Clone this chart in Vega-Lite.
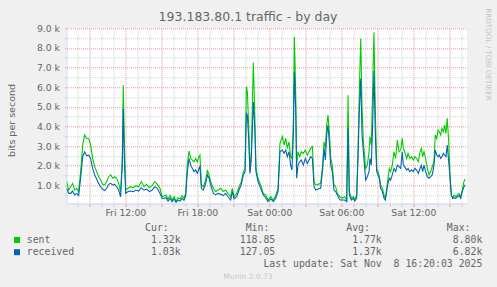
{
"$schema": "https://vega.github.io/schema/vega-lite/v6.json",
"width": 400.5,
"height": 175.2,
"autosize": {"type": "none"},
"padding": {"left": 66.5, "top": 28.3, "right": 30, "bottom": 83.5},
"background": "#f0f0f0",
"config": {"view": {"fill": "#ffffff", "stroke": null}, "font": "DejaVu Sans"},
"title": {"text": "193.183.80.1 traffic - by day", "fontSize": 12.5, "fontWeight": "normal", "color": "#666666", "anchor": "middle", "frame": "group", "dx": -18.7, "dy": 30, "baseline": "alphabetic", "offset": 4},
"datasets": {
"traffic": [
{"h":7.11,"sent":1190,"received":850},{"h":7.28,"sent":760,"received":590},{"h":7.45,"sent":930,"received":590},{"h":7.61,"sent":1100,"received":710},{"h":7.78,"sent":760,"received":510},{"h":7.95,"sent":850,"received":590},{"h":8.11,"sent":680,"received":480},{"h":8.28,"sent":1700,"received":1360},{"h":8.45,"sent":3050,"received":2460},{"h":8.61,"sent":3560,"received":2710},{"h":8.78,"sent":3390,"received":2510},{"h":8.95,"sent":3390,"received":2540},{"h":9.11,"sent":3050,"received":2370},{"h":9.28,"sent":2370,"received":1860},{"h":9.45,"sent":1950,"received":1530},{"h":9.61,"sent":1700,"received":1320},{"h":9.78,"sent":1440,"received":1100},{"h":9.95,"sent":1270,"received":930},{"h":10.11,"sent":1050,"received":800},{"h":10.28,"sent":1020,"received":730},{"h":10.45,"sent":1190,"received":850},{"h":10.61,"sent":1440,"received":1050},{"h":10.78,"sent":1530,"received":1100},{"h":10.95,"sent":1360,"received":1020},{"h":11.11,"sent":1440,"received":1050},{"h":11.28,"sent":1360,"received":930},{"h":11.45,"sent":1100,"received":760},{"h":11.61,"sent":680,"received":420},{"h":11.75,"sent":2370,"received":2030},{"h":11.83,"sent":6100,"received":4920},{"h":11.92,"sent":3220,"received":2370},{"h":12.03,"sent":760,"received":590},{"h":12.22,"sent":850,"received":680},{"h":12.45,"sent":930,"received":710},{"h":12.67,"sent":880,"received":680},{"h":12.89,"sent":980,"received":760},{"h":13.11,"sent":930,"received":710},{"h":13.33,"sent":1190,"received":880},{"h":13.56,"sent":930,"received":760},{"h":13.78,"sent":1050,"received":810},{"h":14.0,"sent":880,"received":680},{"h":14.22,"sent":980,"received":750},{"h":14.45,"sent":1190,"received":930},{"h":14.67,"sent":1050,"received":850},{"h":14.89,"sent":850,"received":590},{"h":15.06,"sent":420,"received":340},{"h":15.22,"sent":450,"received":330},
{"h":15.39,"sent":510,"received":370},{"h":15.56,"sent":310,"received":200},{"h":15.73,"sent":480,"received":340},{"h":15.89,"sent":250,"received":170},{"h":16.06,"sent":420,"received":310},{"h":16.23,"sent":200,"received":140},{"h":16.39,"sent":370,"received":250},{"h":16.56,"sent":310,"received":200},{"h":16.73,"sent":480,"received":340},{"h":16.89,"sent":340,"received":240},{"h":17.03,"sent":590,"received":480},{"h":17.17,"sent":2030,"received":1700},{"h":17.31,"sent":2750,"received":2370},{"h":17.45,"sent":2370,"received":2030},{"h":17.59,"sent":2290,"received":1860},{"h":17.73,"sent":2200,"received":1700},{"h":17.86,"sent":2370,"received":1780},{"h":18.0,"sent":2200,"received":1610},{"h":18.14,"sent":2460,"received":1860},{"h":18.22,"sent":2540,"received":1950},{"h":18.34,"sent":1020,"received":850},{"h":18.5,"sent":930,"received":760},{"h":18.7,"sent":1270,"received":1100},{"h":18.84,"sent":1780,"received":1530},{"h":18.98,"sent":1530,"received":1360},{"h":19.11,"sent":1190,"received":1020},{"h":19.34,"sent":850,"received":590},{"h":19.53,"sent":680,"received":510},{"h":19.73,"sent":760,"received":590},{"h":19.95,"sent":850,"received":540},{"h":20.17,"sent":680,"received":480},{"h":20.36,"sent":760,"received":590},{"h":20.56,"sent":590,"received":420},{"h":20.78,"sent":420,"received":250},{"h":20.92,"sent":850,"received":680},{"h":21.06,"sent":420,"received":310},{"h":21.28,"sent":590,"received":420},{"h":21.48,"sent":930,"received":760},{"h":21.67,"sent":1190,"received":1050},{"h":21.84,"sent":1700,"received":1530},{"h":21.98,"sent":1860,"received":1700},{"h":22.09,"sent":6020,"received":4660},{"h":22.17,"sent":5760,"received":4580},{"h":22.28,"sent":4070,"received":3390},{"h":22.39,"sent":1700,"received":1610},{"h":22.5,"sent":2710,"received":2370},{"h":22.67,"sent":7250,"received":5250},{"h":22.78,"sent":4920,"received":4070},{"h":22.89,"sent":1860,"received":1700},{"h":23.06,"sent":1360,"received":1190},{"h":23.28,"sent":1020,"received":850},{"h":23.5,"sent":590,"received":510},
{"h":23.7,"sent":510,"received":370},{"h":23.89,"sent":250,"received":170},{"h":24.12,"sent":420,"received":310},{"h":24.34,"sent":250,"received":170},{"h":24.53,"sent":480,"received":340},{"h":24.73,"sent":850,"received":680},{"h":24.89,"sent":3140,"received":2710},{"h":25.09,"sent":3480,"received":2800},{"h":25.23,"sent":3050,"received":2630},{"h":25.37,"sent":3390,"received":2800},{"h":25.5,"sent":2880,"received":2460},{"h":25.64,"sent":3220,"received":2710},{"h":25.78,"sent":2460,"received":2030},{"h":25.89,"sent":2370,"received":1780},{"h":26.0,"sent":4070,"received":3560},{"h":26.09,"sent":8560,"received":6780},{"h":26.2,"sent":5760,"received":4920},{"h":26.28,"sent":2030,"received":1360},{"h":26.39,"sent":2710,"received":2030},{"h":26.53,"sent":2460,"received":2200},{"h":26.67,"sent":2710,"received":2290},{"h":26.84,"sent":2630,"received":2030},{"h":27.0,"sent":2800,"received":2370},{"h":27.17,"sent":2540,"received":2120},{"h":27.31,"sent":2710,"received":2290},{"h":27.45,"sent":2880,"received":2460},{"h":27.59,"sent":2970,"received":2370},{"h":27.73,"sent":1190,"received":930},{"h":27.87,"sent":1020,"received":760},{"h":28.06,"sent":1050,"received":810},{"h":28.28,"sent":1100,"received":850},{"h":28.45,"sent":2030,"received":1860},{"h":28.56,"sent":3220,"received":2880},{"h":28.67,"sent":2880,"received":2290},{"h":28.78,"sent":4070,"received":3560},{"h":28.89,"sent":4580,"received":4070},{"h":29.0,"sent":3730,"received":3220},{"h":29.12,"sent":2370,"received":2030},{"h":29.25,"sent":2030,"received":1700},{"h":29.39,"sent":1020,"received":760},{"h":29.53,"sent":930,"received":680},{"h":29.67,"sent":590,"received":510},{"h":29.89,"sent":420,"received":250},{"h":30.09,"sent":340,"received":250},{"h":30.28,"sent":420,"received":250},{"h":30.45,"sent":250,"received":170},{"h":30.56,"sent":5590,"received":3900},{"h":30.67,"sent":680,"received":510},{"h":30.84,"sent":340,"received":250},{"h":31.0,"sent":420,"received":340},{"h":31.12,"sent":250,"received":200},{"h":31.28,"sent":510,"received":340},{"h":31.39,"sent":2710,"received":2370},{"h":31.5,"sent":5760,"received":4750},{"h":31.62,"sent":8480,"received":6440},{"h":31.73,"sent":4920,"received":3560},{"h":31.84,"sent":3220,"received":2710},
{"h":32.03,"sent":1860,"received":1270},{"h":32.17,"sent":2030,"received":1440},{"h":32.31,"sent":2710,"received":1700},{"h":32.39,"sent":3480,"received":2370},{"h":32.5,"sent":3050,"received":2030},{"h":32.61,"sent":5760,"received":4070},{"h":32.72,"sent":8800,"received":6820},{"h":32.83,"sent":4920,"received":3730},{"h":32.95,"sent":1860,"received":1700},{"h":33.06,"sent":1700,"received":1530},{"h":33.17,"sent":1440,"received":1360},{"h":33.28,"sent":1020,"received":850},{"h":33.42,"sent":850,"received":680},{"h":33.56,"sent":510,"received":340},{"h":33.67,"sent":340,"received":250},{"h":33.78,"sent":850,"received":680},{"h":33.89,"sent":1360,"received":1100},{"h":34.0,"sent":1860,"received":1360},{"h":34.11,"sent":1700,"received":1270},{"h":34.25,"sent":2030,"received":1530},{"h":34.39,"sent":2710,"received":1860},{"h":34.53,"sent":2370,"received":1700},{"h":34.67,"sent":3310,"received":2030},{"h":34.81,"sent":2710,"received":1950},{"h":34.95,"sent":2800,"received":1860},{"h":35.08,"sent":3390,"received":2710},{"h":35.17,"sent":2880,"received":2030},{"h":35.28,"sent":2710,"received":1950},{"h":35.45,"sent":2370,"received":1780},{"h":35.56,"sent":2630,"received":1860},{"h":35.72,"sent":2370,"received":1700},{"h":35.86,"sent":2460,"received":1780},{"h":36.0,"sent":2290,"received":1700},{"h":36.14,"sent":2460,"received":1860},{"h":36.28,"sent":2370,"received":1780},{"h":36.42,"sent":2200,"received":1610},{"h":36.56,"sent":2710,"received":1860},{"h":36.67,"sent":2880,"received":2030},{"h":36.78,"sent":2460,"received":1700},{"h":36.89,"sent":2710,"received":2030},{"h":37.03,"sent":2370,"received":1700},{"h":37.17,"sent":1860,"received":1440},{"h":37.31,"sent":1530,"received":1360},{"h":37.45,"sent":1700,"received":1440},{"h":37.58,"sent":1950,"received":1530},{"h":37.72,"sent":2200,"received":2030},{"h":37.83,"sent":3560,"received":2800},{"h":37.95,"sent":3390,"received":2540},{"h":38.06,"sent":3810,"received":2460},{"h":38.17,"sent":3730,"received":2540},{"h":38.28,"sent":3560,"received":2370},{"h":38.39,"sent":3900,"received":2460},{"h":38.5,"sent":3730,"received":2630},{"h":38.61,"sent":4070,"received":2540},{"h":38.72,"sent":3640,"received":2460},{"h":38.83,"sent":4410,"received":3050},{"h":38.95,"sent":3220,"received":2200},{"h":39.06,"sent":1530,"received":1360},{"h":39.17,"sent":510,"received":510},{"h":39.28,"sent":340,"received":340},{"h":39.39,"sent":510,"received":370},{"h":39.53,"sent":420,"received":340},{"h":39.67,"sent":510,"received":420},{"h":39.81,"sent":590,"received":480},{"h":39.95,"sent":420,"received":340},{"h":40.08,"sent":760,"received":680},{"h":40.22,"sent":1190,"received":930},{"h":40.33,"sent":1320,"received":1030}
],
"legend": [
{"row": "header", "text": "\u200b\u00a0\u00a0\u00a0\u00a0\u00a0\u00a0\u00a0\u00a0\u00a0\u00a0\u00a0\u00a0\u00a0\u00a0\u00a0\u00a0\u00a0\u00a0\u00a0\u00a0Cur:\u00a0\u00a0\u00a0\u00a0\u00a0\u00a0\u00a0\u00a0\u00a0\u00a0\u00a0\u00a0\u00a0Min:\u00a0\u00a0\u00a0\u00a0\u00a0\u00a0\u00a0\u00a0\u00a0\u00a0\u00a0\u00a0\u00a0Avg:\u00a0\u00a0\u00a0\u00a0\u00a0\u00a0\u00a0\u00a0\u00a0\u00a0\u00a0\u00a0\u00a0Max:"},
{"row": "sent", "series": "sent", "text": "sent\u00a0\u00a0\u00a0\u00a0\u00a0\u00a0\u00a0\u00a0\u00a0\u00a0\u00a0\u00a0\u00a0\u00a0\u00a0\u00a0\u00a01.32k\u00a0\u00a0\u00a0\u00a0\u00a0\u00a0\u00a0\u00a0\u00a0\u00a0118.85\u00a0\u00a0\u00a0\u00a0\u00a0\u00a0\u00a0\u00a0\u00a0\u00a0\u00a0\u00a0\u00a01.77k\u00a0\u00a0\u00a0\u00a0\u00a0\u00a0\u00a0\u00a0\u00a0\u00a0\u00a0\u00a08.80k"},
{"row": "received", "series": "received", "text": "received\u00a0\u00a0\u00a0\u00a0\u00a0\u00a0\u00a0\u00a0\u00a0\u00a0\u00a0\u00a0\u00a01.03k\u00a0\u00a0\u00a0\u00a0\u00a0\u00a0\u00a0\u00a0\u00a0\u00a0127.05\u00a0\u00a0\u00a0\u00a0\u00a0\u00a0\u00a0\u00a0\u00a0\u00a0\u00a0\u00a0\u00a01.37k\u00a0\u00a0\u00a0\u00a0\u00a0\u00a0\u00a0\u00a0\u00a0\u00a0\u00a0\u00a06.82k"},
{"row": "update", "text": "\u200b\u00a0\u00a0\u00a0\u00a0\u00a0\u00a0\u00a0\u00a0\u00a0\u00a0\u00a0\u00a0\u00a0\u00a0\u00a0\u00a0\u00a0\u00a0\u00a0\u00a0\u00a0\u00a0\u00a0\u00a0\u00a0\u00a0\u00a0\u00a0\u00a0\u00a0\u00a0\u00a0\u00a0\u00a0\u00a0\u00a0\u00a0\u00a0\u00a0\u00a0Last update: Sat Nov\u00a0\u00a08 16:20:03 2025"}
],
"footer": [{"row": "footer", "text": "Munin 2.0.73"}]
},
"layer": [
{
"data": {"name": "traffic"},
"transform": [{"fold": ["sent", "received"], "as": ["series", "bps"]}],
"mark": {"type": "line", "strokeWidth": 1.1, "clip": true},
"encoding": {
"x": {"field": "h", "type": "quantitative", "scale": {"domain": [7.1, 40.475], "nice": false, "zero": false},
"axis": {"values": [8,9,10,11,12,13,14,15,16,17,18,19,20,21,22,23,24,25,26,27,28,29,30,31,32,33,34,35,36,37,38,39,40],
"labelExpr": "datum.value % 6 === 0 ? (datum.value < 24 ? 'Fri ' : 'Sat ') + (datum.value % 24 < 10 ? '0' : '') + (datum.value % 24) + ':00' : ''",
"title": null, "labelFontSize": 9.3, "labelColor": "#666666", "labelFont": "DejaVu Sans", "labelOverlap": false, "labelFlush": false, "labelPadding": 2, "tickSize": 3,
"tickColor": {"condition": {"test": "datum.value % 3 === 0", "value": "#e39a9a"}, "value": "#c8c8c8"},
"gridColor": {"condition": {"test": "datum.value % 3 === 0", "value": "#e39a9a"}, "value": "#cfcfcf"},
"gridDash": [1, 1], "domainColor": "#cfd6f8"}},
"y": {"field": "bps", "type": "quantitative", "scale": {"domain": [75, 9000], "nice": false, "zero": false},
"axis": {"values": [500,1000,1500,2000,2500,3000,3500,4000,4500,5000,5500,6000,6500,7000,7500,8000,8500,9000],
"labelExpr": "datum.value % 1000 === 0 ? format(datum.value / 1000, '.1f') + ' k' : ''",
"title": "bits per second", "titleX": -55.5, "titleY": 91.7, "titleAngle": -90, "titleAlign": "center", "titleBaseline": "middle", "titleFontSize": 9.5, "titleFontWeight": "normal", "titleColor": "#666666", "titleFont": "DejaVu Sans",
"labelFontSize": 9.3, "labelColor": "#666666", "labelFont": "DejaVu Sans", "labelOverlap": false, "labelFlush": false, "labelPadding": 5, "tickSize": 2,
"tickColor": {"condition": {"test": "datum.value % 1000 === 0", "value": "#e39a9a"}, "value": "#c8c8c8"},
"gridColor": {"condition": {"test": "datum.value % 1000 === 0", "value": "#e39a9a"}, "value": "#cfcfcf"},
"gridDash": [1, 1], "domainColor": "#cfd6f8"}},
"color": {"field": "series", "type": "nominal", "scale": {"domain": ["sent", "received"], "range": ["#00cc00", "#0066b3"]}, "legend": null}
}
},
{
"encoding": {
"y": {"field": "row", "type": "nominal", "scale": {"type": "point", "domain": ["header", "sent", "received", "update", "footer"], "range": [199.4, 248.4], "padding": 0},
"axis": {"orient": "right", "labels": false, "ticks": false, "domain": false, "grid": false, "title": "RRDTOOL / TOBI OETIKER", "titleAngle": 90, "titleX": 20.3, "titleY": 25.7, "titleAlign": "center", "titleBaseline": "middle", "titleFontSize": 7.2, "titleFontWeight": "normal", "titleColor": "#c4c4c4", "titleFont": "DejaVu Sans"}}
},
"layer": [
{
"data": {"name": "legend"},
"mark": {"type": "text", "align": "left", "baseline": "middle", "font": "DejaVu Sans Mono", "fontSize": 9.83, "color": "#666666"},
"encoding": {
"x": {"datum": 0, "type": "quantitative", "scale": {"domain": [6.72, 74.37], "nice": false, "zero": false}, "axis": null},
"text": {"field": "text"}
}
},
{
"data": {"name": "legend"},
"transform": [{"filter": "isValid(datum.series)"}],
"mark": {"type": "point", "shape": "square", "filled": true, "size": 36, "opacity": 1},
"encoding": {
"x": {"datum": -1.64, "type": "quantitative", "scale": {"domain": [6.72, 74.37], "nice": false, "zero": false}, "axis": null},
"color": {"field": "series", "type": "nominal", "legend": null}
}
},
{
"data": {"name": "footer"},
"mark": {"type": "text", "align": "center", "baseline": "middle", "font": "DejaVu Sans", "fontSize": 7.5, "color": "#c8c8c8"},
"encoding": {
"x": {"datum": 37.38, "type": "quantitative", "scale": {"domain": [6.72, 74.37], "nice": false, "zero": false}, "axis": null},
"text": {"field": "text"}
}
}
]
}
],
"resolve": {"scale": {"x": "independent", "y": "independent"}}
}
